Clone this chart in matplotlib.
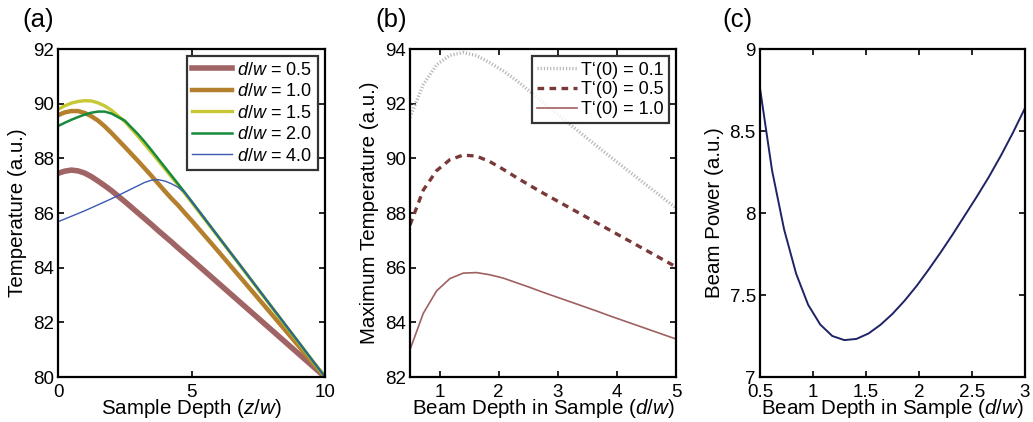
import matplotlib
matplotlib.use("Agg")
import matplotlib.pyplot as plt

plt.rcParams["font.family"] = ["Liberation Sans", "DejaVu Sans"]
plt.rcParams["mathtext.fontset"] = "custom"
plt.rcParams["mathtext.it"] = "Liberation Sans:italic"
plt.rcParams["mathtext.rm"] = "Liberation Sans"

# (a) temperature vs sample depth
x_a = [0, 0.25, 0.5, 0.75, 1, 1.25, 1.5, 1.75, 2, 2.5, 3, 3.25, 3.5, 3.75,
       4, 4.25, 4.5, 4.75, 5, 6, 7, 8, 9, 10]
t_d05 = [87.45, 87.53, 87.57, 87.54, 87.46, 87.33, 87.17, 87.0, 86.82, 86.42, 86.0, 85.79,
         85.58, 85.36, 85.15, 84.94, 84.72, 84.51, 84.3, 83.44, 82.58, 81.72, 80.86, 80.0]
t_d10 = [89.58, 89.68, 89.73, 89.73, 89.66, 89.54, 89.38, 89.17, 88.93, 88.42, 87.9, 87.63,
         87.36, 87.08, 86.8, 86.53, 86.28, 86.0, 85.73, 84.6, 83.45, 82.3, 81.15, 80.0]
t_d15 = [89.79, 89.92, 90.02, 90.08, 90.11, 90.1, 90.03, 89.92, 89.76, 89.35, 88.8, 88.51,
         88.22, 87.92, 87.62, 87.32, 87.02, 86.71, 86.4, 85.13, 83.85, 82.56, 81.28, 80.0]
t_d20 = [89.18, 89.3, 89.41, 89.51, 89.6, 89.67, 89.71, 89.71, 89.64, 89.38, 88.88, 88.6,
         88.3, 87.99, 87.68, 87.37, 87.06, 86.75, 86.43, 85.14, 83.86, 82.57, 81.29, 80.0]
t_d40 = [85.68, 85.78, 85.88, 85.98, 86.08, 86.19, 86.3, 86.41, 86.52, 86.76, 87.0, 87.12,
         87.2, 87.22, 87.17, 87.07, 86.94, 86.74, 86.44, 85.15, 83.87, 82.58, 81.3, 80.0]

# (b) max temperature vs beam depth
x_b = [0.5, 0.725, 0.95, 1.175, 1.4, 1.625, 1.85, 2.075, 2.3, 2.525, 2.75,
       2.975, 3.2, 3.425, 3.65, 3.875, 4.1, 4.325, 4.55, 4.775, 5.0]
t_p01 = [91.5, 92.7, 93.42, 93.77, 93.87, 93.76, 93.5, 93.2, 92.85, 92.45, 92.05,
         91.65, 91.25, 90.86, 90.47, 90.08, 89.7, 89.32, 88.94, 88.56, 88.18]
t_p05 = [87.56, 88.84, 89.55, 89.95, 90.12, 90.08, 89.88, 89.6, 89.3, 89.01, 88.73,
         88.46, 88.19, 87.92, 87.65, 87.38, 87.11, 86.84, 86.57, 86.3, 86.03]
t_p10 = [83.0, 84.33, 85.15, 85.6, 85.8, 85.82, 85.74, 85.62, 85.45, 85.28, 85.1,
         84.93, 84.76, 84.59, 84.42, 84.24, 84.07, 83.9, 83.73, 83.56, 83.39]

# (c) beam power vs beam depth
x_c = [0.5, 0.6136, 0.7273, 0.8409, 0.9545, 1.0682, 1.1818, 1.2955, 1.4091, 1.5227,
       1.6364, 1.75, 1.8636, 1.9773, 2.0909, 2.2045, 2.3182, 2.4318, 2.5455, 2.6591,
       2.7727, 2.8864, 3.0]
power = [8.76, 8.26, 7.90, 7.63, 7.44, 7.32, 7.25, 7.225, 7.232, 7.265,
         7.318, 7.385, 7.465, 7.555, 7.655, 7.76, 7.87, 7.985, 8.10, 8.22,
         8.35, 8.49, 8.64]

fig = plt.figure(figsize=(10.33, 4.22), dpi=100)
W, H = 1033, 422


def make_ax(left, right, top, bottom):
    ax = fig.add_axes([left / W, 1 - bottom / H, (right - left) / W, (bottom - top) / H])
    ax.tick_params(direction="in", top=True, right=True, length=4, width=1.2,
                   labelsize=13.5, pad=3)
    ax.tick_params(axis="x", pad=5)
    for s in ax.spines.values():
        s.set_linewidth(1.6)
    return ax


fs = 14.8

# panel a
ax1 = make_ax(58, 325, 49, 377)
ax1.plot(x_a, t_d05, color="#a06464", lw=4.0, label=r"$d/w$ = 0.5")
ax1.plot(x_a, t_d10, color="#b4802e", lw=3.2, label=r"$d/w$ = 1.0")
ax1.plot(x_a, t_d15, color="#c8c834", lw=2.4, label=r"$d/w$ = 1.5")
ax1.plot(x_a, t_d20, color="#178a3c", lw=1.8, label=r"$d/w$ = 2.0")
ax1.plot(x_a, t_d40, color="#3a5ab4", lw=1.0, label=r"$d/w$ = 4.0")
ax1.set_xlim(0, 10)
ax1.set_ylim(80, 92)
ax1.set_xticks([0, 5, 10])
ax1.set_yticks([80, 82, 84, 86, 88, 90, 92])
ax1.set_xlabel(r"Sample Depth ($z/w$)", fontsize=fs, labelpad=-3)
ax1.set_ylabel("Temperature (a.u.)", fontsize=fs, labelpad=4)
leg1 = ax1.legend(loc="upper right", fontsize=13, frameon=True, fancybox=False,
                  edgecolor="black", handlelength=2.2, handletextpad=0.3,
                  labelspacing=0.25, borderpad=0.3, borderaxespad=0.4)
leg1.get_frame().set_linewidth(1.6)

# panel b
ax2 = make_ax(410, 676, 49, 377)
ax2.plot(x_b, t_p01, color="#b4b4b4", lw=2.4, linestyle=(0, (0.35, 0.6)), label="T\u2018(0) = 0.1")
ax2.plot(x_b, t_p05, color="#7a3838", lw=2.4, linestyle=(0, (2.0, 1.6)), label="T\u2018(0) = 0.5")
ax2.plot(x_b, t_p10, color="#a06060", lw=1.2, label="T\u2018(0) = 1.0")
ax2.set_xlim(0.5, 5)
ax2.set_ylim(82, 94)
ax2.set_xticks([1, 2, 3, 4, 5])
ax2.set_yticks([82, 84, 86, 88, 90, 92, 94])
ax2.set_xlabel(r"Beam Depth in Sample ($d/w$)", fontsize=fs, labelpad=-3)
ax2.set_ylabel("Maximum Temperature (a.u.)", fontsize=fs, labelpad=4)
leg2 = ax2.legend(loc="upper right", fontsize=13, frameon=True, fancybox=False,
                  edgecolor="black", handlelength=2.2, handletextpad=0.2,
                  labelspacing=0.15, borderpad=0.3, borderaxespad=0.4)
leg2.get_frame().set_linewidth(1.6)

# panel c
ax3 = make_ax(760, 1025, 49, 377)
ax3.plot(x_c, power, color="#1e2266", lw=1.4)
ax3.set_xlim(0.5, 3)
ax3.set_ylim(7, 9)
ax3.set_xticks([0.5, 1, 1.5, 2, 2.5, 3])
ax3.set_xticklabels(["0.5", "1", "1.5", "2", "2.5", "3"])
ax3.set_yticks([7, 7.5, 8, 8.5, 9])
ax3.set_yticklabels(["7", "7.5", "8", "8.5", "9"])
ax3.set_xlabel(r"Beam Depth in Sample ($d/w$)", fontsize=fs, labelpad=-3)
ax3.set_ylabel("Beam Power (a.u.)", fontsize=fs, labelpad=4)

fig.text(22 / W, 1 - 20 / H, "(a)", fontsize=18.5, va="center")
fig.text(375 / W, 1 - 20 / H, "(b)", fontsize=18.5, va="center")
fig.text(722 / W, 1 - 20 / H, "(c)", fontsize=18.5, va="center")

fig.savefig("out.png", dpi=100)
